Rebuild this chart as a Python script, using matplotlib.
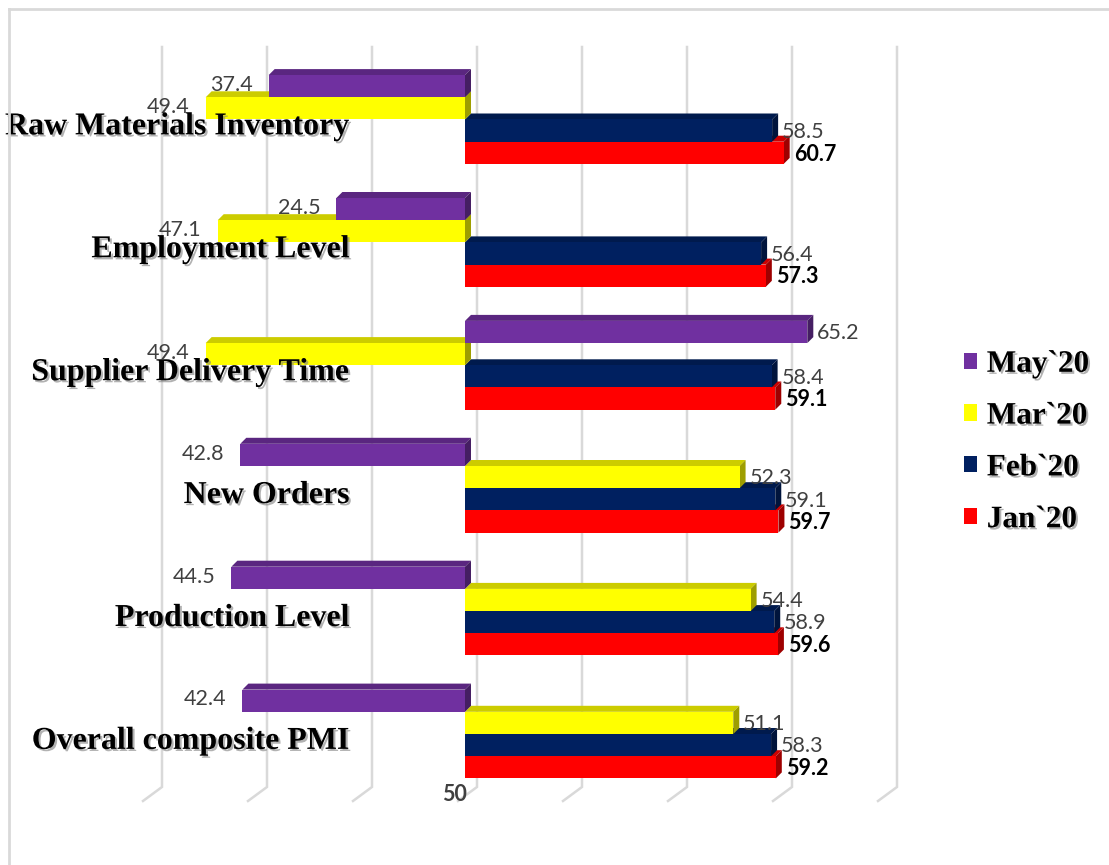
import numpy as np
import matplotlib.pyplot as plt
from matplotlib.patches import Polygon, Patch
import matplotlib.patheffects as pe

categories = ['Raw Materials Inventory', 'Employment Level', 'Supplier Delivery Time',
              'New Orders', 'Production Level', 'Overall composite PMI']
series = ['May`20', 'Mar`20', 'Feb`20', 'Jan`20']
may20 = [37.4, 24.5, 65.2, 42.8, 44.5, 42.4]
mar20 = [49.4, 47.1, 49.4, 52.3, 54.4, 51.1]
feb20 = [58.5, 56.4, 58.4, 59.1, 58.9, 58.3]
jan20 = [60.7, 57.3, 59.1, 59.7, 59.6, 59.2]
colors = ['#7030A0', '#FFFF00', '#002060', '#FF0000']

W, H = 1109, 865
PX_X = 5.25      # pixels per unit on x
PX_Y = 122.9     # pixels per category
X0 = 465         # pixel of the 50 line
Y0 = 119.5       # pixel of first category centre

fig = plt.figure(figsize=(W / 100, H / 100), dpi=100)
ax = fig.add_axes([0, 0, 1, 1])
ax.set_xlim(-X0 / PX_X, (W - X0) / PX_X)
ax.set_ylim((H - Y0) / PX_Y, -Y0 / PX_Y)
ax.axis('off')

def px2x(p):
    return (p - X0) / PX_X

def px2y(p):
    return (p - Y0) / PX_Y

# border (top and left only)
fig.add_artist(plt.Line2D([9 / W, 1], [1 - 9 / H, 1 - 9 / H], color='#d9d9d9', lw=2))
fig.add_artist(plt.Line2D([9 / W, 9 / W], [1 - 9 / H, 0], color='#d9d9d9', lw=2))

# back wall gridlines with floor slant
for g in range(-60, 81, 20):
    xb = g + 12 / PX_X
    ax.plot([xb, xb, g - 7 / PX_X], [px2y(47), px2y(787), px2y(801)],
            color='#d9d9d9', lw=1.8, zorder=0, solid_joinstyle='miter')

def shade(c, f):
    r, g, b = plt.matplotlib.colors.to_rgb(c)
    return (r * f, g * f, b * f)

h = 22.2 / PX_Y
dx = 6 / PX_X
dy = -6 / PX_Y
data = [may20, mar20, feb20, jan20]
offs = [-1.5 * h, -0.5 * h, 0.5 * h, 1.5 * h]

z = 1
for s in [3, 2, 1, 0]:
    vals = np.array(data[s])
    signed = np.where(vals >= 50, vals, -vals)
    c = colors[s]
    for i, v in enumerate(signed):
        yc = i + offs[s]
        top, bot = yc - h / 2, yc + h / 2
        x1, x2 = min(0, v), max(0, v)
        ax.add_patch(Polygon([(x1, top), (x1 + dx, top + dy), (x2 + dx, top + dy), (x2, top)],
                             closed=True, fc=shade(c, 0.8), ec='none', zorder=z))
        ax.add_patch(Polygon([(x2, top), (x2 + dx, top + dy), (x2 + dx, bot + dy), (x2, bot)],
                             closed=True, fc=shade(c, 0.62), ec='none', zorder=z))
        ax.barh(yc, v, height=h, left=0, color=c, zorder=z)
        lab_col = 'black' if s == 3 else '#404040'
        lab_w = 'bold' if s == 3 else 'normal'
        if v >= 0:
            ax.text(v + 10 / PX_X, yc + 0.01, f'{vals[i]:.1f}', ha='left', va='center',
                    fontsize=15.5, family='Lato', color=lab_col, weight=lab_w, zorder=10)
        else:
            ax.text(v - 16 / PX_X, yc - 0.01, f'{vals[i]:.1f}', ha='right', va='center',
                    fontsize=15.5, family='Lato', color=lab_col, weight=lab_w, zorder=10)
    z += 1

shadow = [pe.withSimplePatchShadow(offset=(1.5, -1.5), shadow_rgbFace='#7f7f7f', alpha=0.6)]
for i, cat in enumerate(categories):
    ax.text(px2x(350), i + 0.06, cat, ha='right', va='center', fontsize=23,
            family='Liberation Serif', weight='bold', color='black', zorder=12,
            path_effects=shadow)

ax.text(px2x(467), px2y(795), '50', ha='right', va='center', fontsize=15.5,
        family='Lato', weight='bold', color='#404040')

handles = [Patch(facecolor=c, edgecolor='none') for c in colors]
leg = fig.legend(handles, series, loc='center left', bbox_to_anchor=(948 / W, 1 - 442 / H),
                 frameon=False, borderpad=0, handlelength=0.42, handleheight=0.42,
                 handletextpad=0.32, labelspacing=0.73,
                 prop={'family': 'Liberation Serif', 'weight': 'bold', 'size': 22.5})
for t in leg.get_texts():
    t.set_path_effects(shadow)

fig.savefig('out.png', dpi=100)
